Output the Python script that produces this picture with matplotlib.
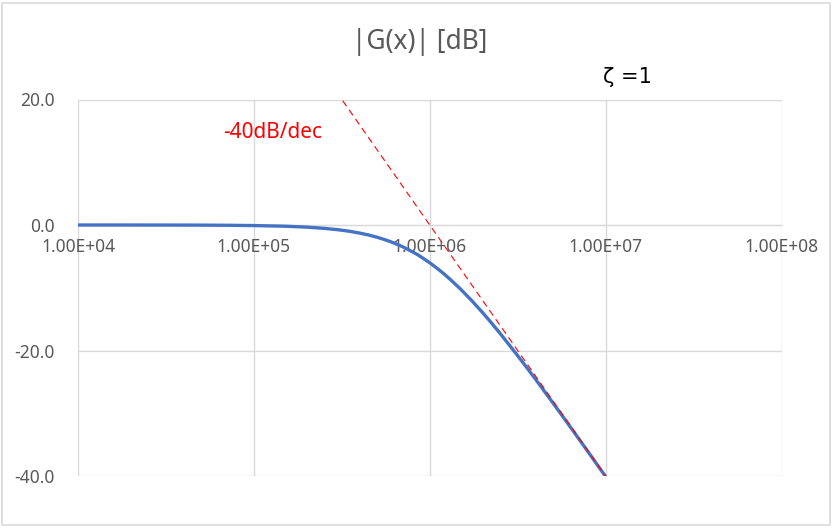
import numpy as np
import matplotlib
matplotlib.use("Agg")
import matplotlib.pyplot as plt
from matplotlib.ticker import FuncFormatter, FixedLocator, NullLocator
from matplotlib.patches import Rectangle

# values (x in frequency, y in dB)
freq = [1e4, 2e4, 3e4, 5e4, 7e4, 1e5, 1.5e5, 2e5, 2.5e5, 3e5, 3.5e5, 4e5, 4.5e5,
        5e5, 5.5e5, 6e5, 6.5e5, 7e5, 7.5e5, 8.5e5, 9e5, 1e6, 1.1e6, 1.2e6, 1.3e6,
        1.5e6, 1.75e6, 2e6, 2.25e6, 2.5e6, 3e6, 3.5e6, 4e6, 4.5e6, 5e6, 6e6,
        7e6, 8e6, 1e7]
gain_db = [0.0, -0.003, -0.008, -0.02, -0.042, -0.09, -0.19, -0.34, -0.53, -0.75,
           -1.0, -1.29, -1.6, -1.94, -2.3, -2.67, -3.06, -3.46, -3.88, -4.7, -5.15,
           -6.02, -6.89, -7.75, -8.6, -10.24, -12.18, -13.98, -15.65, -17.2, -20.0,
           -22.44, -24.6, -26.55, -28.3, -31.36, -33.98, -36.26, -40.09]

# asymptote -40 dB/dec
asym_x = [3.2e5, 1e7]
asym_y = [19.8, -40.0]

xticks = [1e4, 1e5, 1e6, 1e7, 1e8]
yticks = [20, 0, -20, -40]

grey = "#595959"
grid_c = "#D9D9D9"

fig = plt.figure(figsize=(8.38, 5.28), dpi=100)
fig.patch.set_facecolor("white")
ax = fig.add_axes([78 / 838, 52 / 528, 703.5 / 838, 376.5 / 528])

ax.plot(freq, gain_db, color="#4472C4", lw=2.4, solid_capstyle="butt",
        solid_joinstyle="round", zorder=3)
ax.plot(asym_x, asym_y, color="#FF0000", lw=0.8, dashes=(6, 4), zorder=4)

ax.set_xscale("log")
ax.set_xlim(1e4, 1e8)
ax.set_ylim(-40, 20)
ax.xaxis.set_major_locator(FixedLocator(xticks))
ax.xaxis.set_minor_locator(NullLocator())
ax.yaxis.set_major_locator(FixedLocator(yticks))
ax.xaxis.set_major_formatter(FuncFormatter(lambda v, p: f"{v:.2E}"))
ax.yaxis.set_major_formatter(FuncFormatter(lambda v, p: f"{v:.1f}"))

ax.grid(True, color=grid_c, lw=1.0)
ax.set_axisbelow(True)
for s in ["top", "right", "left"]:
    ax.spines[s].set_visible(False)
ax.spines["bottom"].set_position(("data", 0))
ax.spines["bottom"].set_color(grid_c)

ax.tick_params(axis="x", length=0, pad=9, labelsize=12.5, labelcolor=grey)
ax.tick_params(axis="y", length=0, pad=17, labelsize=12.5, labelcolor=grey)
for lab in ax.get_xticklabels() + ax.get_yticklabels():
    lab.set_fontfamily("Noto Sans")

fig.text(420 / 838, 1 - 42 / 528, "|G(x)| [dB]", ha="center", va="center",
         fontsize=19, color=grey, family="Noto Sans")
fig.text(627 / 838, 1 - 77 / 528, "ζ =1", ha="center", va="center",
         fontsize=15, color="black", family="DejaVu Sans")
ax.text(1.27e5, 14.7, "-40dB/dec", ha="center", va="center",
        fontsize=15, color="#FF0000", family="Noto Sans")

fig.add_artist(Rectangle((2 / 838, 3 / 528), 828 / 838, 522 / 528,
                         transform=fig.transFigure, fill=False,
                         edgecolor=grid_c, lw=1.2))

fig.savefig("out.png", dpi=100)
